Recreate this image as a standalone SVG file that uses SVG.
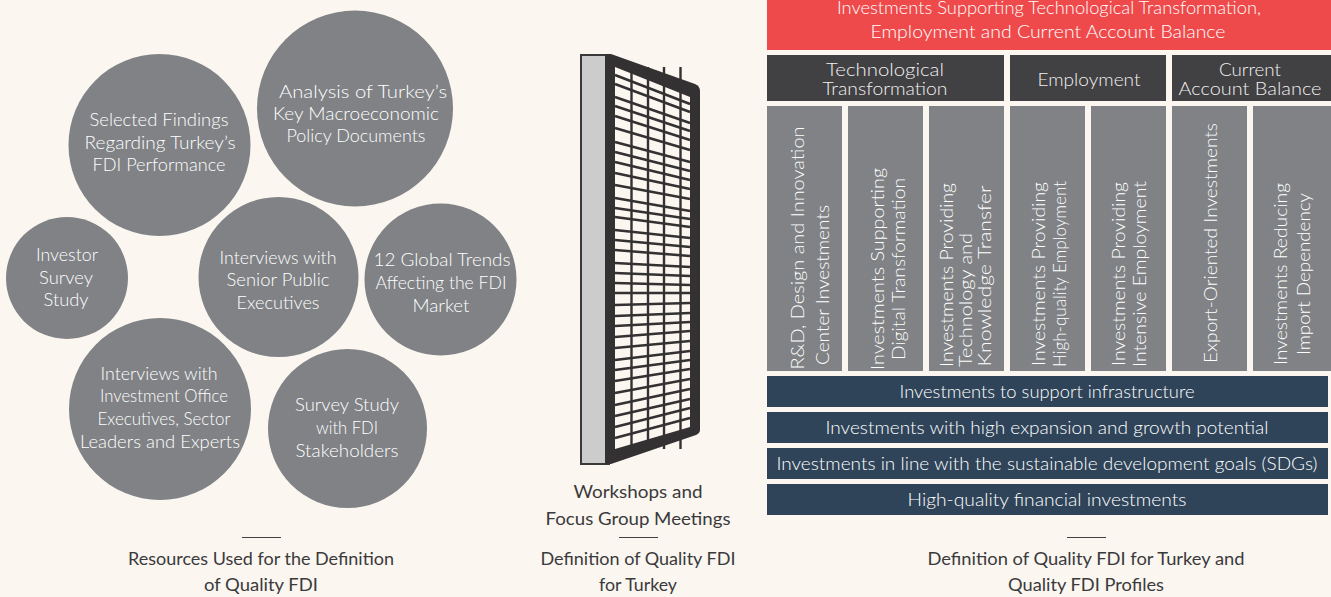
<svg xmlns="http://www.w3.org/2000/svg" width="1331" height="597" viewBox="0 0 1331 597">
<style>
text{font-family:"Lato","Liberation Sans",sans-serif;font-weight:300;text-anchor:middle;font-size:18px;fill:#fff}
.c{fill:#808285}
.k{fill:#f1f1f1}
.cap{fill:#3a3a3c;font-size:18px;font-weight:400}
.v{font-size:18px;fill:#fff}
.red{fill:#ef4a4b}.dark{fill:#414042}.navy{fill:#2f4459}.rule{stroke:#414042;stroke-width:1.2;fill:none}
.n{font-weight:400;font-size:18px}
</style>
<rect width="1331" height="597" fill="#fbf6f0"/>
<g id="analysis"><circle class="c" cx="355" cy="108.5" r="98"/><text x="363" y="98" textLength="168" lengthAdjust="spacingAndGlyphs">Analysis of Turkey’s</text><text x="356" y="120" textLength="166" lengthAdjust="spacingAndGlyphs">Key Macroeconomic</text><text x="356" y="142" textLength="139" lengthAdjust="spacingAndGlyphs">Policy Documents</text></g>
<g id="findings"><circle class="c" cx="159.5" cy="145" r="91"/><text x="159" y="126" textLength="139" lengthAdjust="spacingAndGlyphs">Selected Findings</text><text x="160" y="149" textLength="151" lengthAdjust="spacingAndGlyphs">Regarding Turkey’s</text><text x="159" y="171" textLength="133" lengthAdjust="spacingAndGlyphs">FDI Performance</text></g>
<g id="investor"><circle class="c" cx="67" cy="278" r="61"/><text x="67" y="261" textLength="62" lengthAdjust="spacingAndGlyphs">Investor</text><text x="66" y="284" textLength="54" lengthAdjust="spacingAndGlyphs">Survey</text><text x="66" y="306" textLength="45" lengthAdjust="spacingAndGlyphs">Study</text></g>
<g id="senior"><circle class="c" cx="278.5" cy="277" r="80"/><text x="278" y="264" textLength="117" lengthAdjust="spacingAndGlyphs">Interviews with</text><text x="278" y="286" textLength="103" lengthAdjust="spacingAndGlyphs">Senior Public</text><text x="278" y="309" textLength="83" lengthAdjust="spacingAndGlyphs">Executives</text></g>
<g id="trends"><circle class="c" cx="440.5" cy="279.5" r="76"/><text x="442" y="266" textLength="137" lengthAdjust="spacingAndGlyphs">12 Global Trends</text><text x="441" y="289" textLength="131" lengthAdjust="spacingAndGlyphs">Affecting the FDI</text><text x="441" y="312" textLength="57" lengthAdjust="spacingAndGlyphs">Market</text></g>
<g id="office"><circle class="c" cx="160" cy="409" r="91"/><text x="159" y="380" textLength="117" lengthAdjust="spacingAndGlyphs">Interviews with</text><text x="164" y="402" textLength="128" lengthAdjust="spacingAndGlyphs">Investment Office</text><text x="164" y="425" textLength="133" lengthAdjust="spacingAndGlyphs">Executives, Sector</text><text x="160" y="448" textLength="160" lengthAdjust="spacingAndGlyphs">Leaders and Experts</text></g>
<g id="stakeholders"><circle class="c" cx="347.5" cy="428.5" r="79.5"/><text x="347" y="411" textLength="104" lengthAdjust="spacingAndGlyphs">Survey Study</text><text x="347" y="434" textLength="62" lengthAdjust="spacingAndGlyphs">with FDI</text><text x="347" y="457" textLength="103" lengthAdjust="spacingAndGlyphs">Stakeholders</text></g>

<g id="window">
<rect x="581" y="55" width="28" height="409" fill="#cccccc" stroke="#3a393a" stroke-width="2"/>
<path d="M605 54H611L695 84Q700 86 700 91V430Q700 433 696 435L611 464H605Z" fill="#333132"/>
<path d="M615 67L690 97V427L615 449Z" fill="#fbf6f0"/>
<path d="M631.5 67V449M648 67V449M664 67V449M680.5 67V449" stroke="#333132" stroke-width="2.4" fill="none"/>
<path stroke="#333132" stroke-width="2.6" fill="none" d="M615 75L690 104M615 84L690 112M615 97L690 123M615 106L690 131M615 116L690 140M615 128L690 150M615 142L690 162M615 152L690 171M615 162L690 180M615 173L690 189M615 185L690 199M615 198L690 211M615 208L690 219M615 217L690 227M615 230L690 238M615 240L690 247M615 250L690 256M615 263L690 267M615 273L690 276M615 283L690 285M615 293L690 293M615 305L690 303M615 316L690 313M615 326L690 322M615 337L690 331M615 348L690 341M615 360L690 351M615 370L690 360M615 381L690 369M615 393L690 379M615 405L690 389M615 416L690 399M615 427L690 408M615 438L690 418"/>
</g>

<g id="headline"><rect class="red" x="767" y="0" width="564" height="50"/><text x="1049" y="14" textLength="424" lengthAdjust="spacingAndGlyphs">Investments Supporting Technological Transformation,</text><text x="1048" y="38" textLength="355" lengthAdjust="spacingAndGlyphs">Employment and Current Account Balance</text></g>
<g id="tech"><rect class="dark" x="767" y="55" width="237" height="46"/><text class="k" x="885" y="76" textLength="118" lengthAdjust="spacingAndGlyphs">Technological</text><text class="k" x="885" y="95" textLength="125" lengthAdjust="spacingAndGlyphs">Transformation</text></g>
<g id="employment"><rect class="dark" x="1010" y="55" width="156" height="46"/><text class="k" x="1089" y="86" textLength="103" lengthAdjust="spacingAndGlyphs">Employment</text></g>
<g id="current"><rect class="dark" x="1172" y="55" width="159" height="46"/><text class="k" x="1250" y="76" textLength="62" lengthAdjust="spacingAndGlyphs">Current</text><text class="k" x="1250" y="95" textLength="143" lengthAdjust="spacingAndGlyphs">Account Balance</text></g>

<g id="rd"><rect class="c" x="767" y="106" width="75" height="265"/><text class="v" transform="translate(805 248) rotate(-90)" y="-1" textLength="243" lengthAdjust="spacingAndGlyphs">R&amp;D, Design and Innovation</text><text class="v" transform="translate(829 285) rotate(-90)" textLength="160" lengthAdjust="spacingAndGlyphs">Center Investments</text></g>
<g id="digital"><rect class="c" x="848" y="106" width="75" height="265"/><text class="v" transform="translate(884 269) rotate(-90)" textLength="202" lengthAdjust="spacingAndGlyphs">Investments Supporting</text><text class="v" transform="translate(905 269) rotate(-90)" textLength="182" lengthAdjust="spacingAndGlyphs">Digital Transformation</text></g>
<g id="transfer"><rect class="c" x="929" y="106" width="75" height="265"/><text class="v" transform="translate(953 275) rotate(-90)" textLength="184" lengthAdjust="spacingAndGlyphs">Investments Providing</text><text class="v" transform="translate(972 300) rotate(-90)" textLength="134" lengthAdjust="spacingAndGlyphs">Technology and</text><text class="v" transform="translate(991 276) rotate(-90)" textLength="181" lengthAdjust="spacingAndGlyphs">Knowledge Transfer</text></g>
<g id="highq"><rect class="c" x="1010" y="106" width="75" height="265"/><text class="v" transform="translate(1045 274) rotate(-90)" textLength="184" lengthAdjust="spacingAndGlyphs">Investments Providing</text><text class="v" transform="translate(1066 274) rotate(-90)" textLength="186" lengthAdjust="spacingAndGlyphs">High-quality Employment</text></g>
<g id="intensive"><rect class="c" x="1091" y="106" width="75" height="265"/><text class="v" transform="translate(1125 274) rotate(-90)" textLength="184" lengthAdjust="spacingAndGlyphs">Investments Providing</text><text class="v" transform="translate(1146 274) rotate(-90)" textLength="186" lengthAdjust="spacingAndGlyphs">Intensive Employment</text></g>
<g id="export"><rect class="c" x="1172" y="106" width="75" height="265"/><text class="v" transform="translate(1217 243) rotate(-90)" textLength="240" lengthAdjust="spacingAndGlyphs">Export-Oriented Investments</text></g>
<g id="import"><rect class="c" x="1253" y="106" width="78" height="265"/><text class="v" transform="translate(1287 274) rotate(-90)" textLength="182" lengthAdjust="spacingAndGlyphs">Investments Reducing</text><text class="v" transform="translate(1310 274) rotate(-90)" textLength="162" lengthAdjust="spacingAndGlyphs">Import Dependency</text></g>

<g id="infra"><rect class="navy" x="767" y="376" width="561" height="31"/><text x="1047" y="398" textLength="295" lengthAdjust="spacingAndGlyphs">Investments to support infrastructure</text></g>
<g id="expansion"><rect class="navy" x="767" y="412" width="561" height="31"/><text x="1047" y="434" textLength="443" lengthAdjust="spacingAndGlyphs">Investments with high expansion and growth potential</text></g>
<g id="sdg"><rect class="navy" x="767" y="448" width="561" height="31"/><text x="1047" y="470" textLength="541" lengthAdjust="spacingAndGlyphs">Investments in line with the sustainable development goals (SDGs)</text></g>
<g id="financial"><rect class="navy" x="767" y="484" width="561" height="31"/><text x="1047" y="506" textLength="279" lengthAdjust="spacingAndGlyphs">High-quality financial investments</text></g>

<g id="workshops"><text class="cap" x="638" y="498" textLength="129" lengthAdjust="spacingAndGlyphs">Workshops and</text><text class="cap" x="638" y="525" textLength="185" lengthAdjust="spacingAndGlyphs">Focus Group Meetings</text></g>
<g id="captions">
<path class="rule" d="M242 537.5H281M619 537.5H658M1067 537.5H1106"/>
<text class="cap" x="261" y="565" textLength="266" lengthAdjust="spacingAndGlyphs">Resources Used for the Definition</text><text class="cap" x="261" y="591" textLength="114" lengthAdjust="spacingAndGlyphs">of Quality FDI</text>
<text class="cap" x="638" y="565" textLength="195" lengthAdjust="spacingAndGlyphs">Definition of Quality FDI</text><text class="cap" x="638" y="591" textLength="78" lengthAdjust="spacingAndGlyphs">for Turkey</text>
<text class="cap" x="1086" y="565" textLength="317" lengthAdjust="spacingAndGlyphs">Definition of Quality FDI for Turkey and</text><text class="cap" x="1086" y="591" textLength="156" lengthAdjust="spacingAndGlyphs">Quality FDI Profiles</text>
</g>
</svg>
